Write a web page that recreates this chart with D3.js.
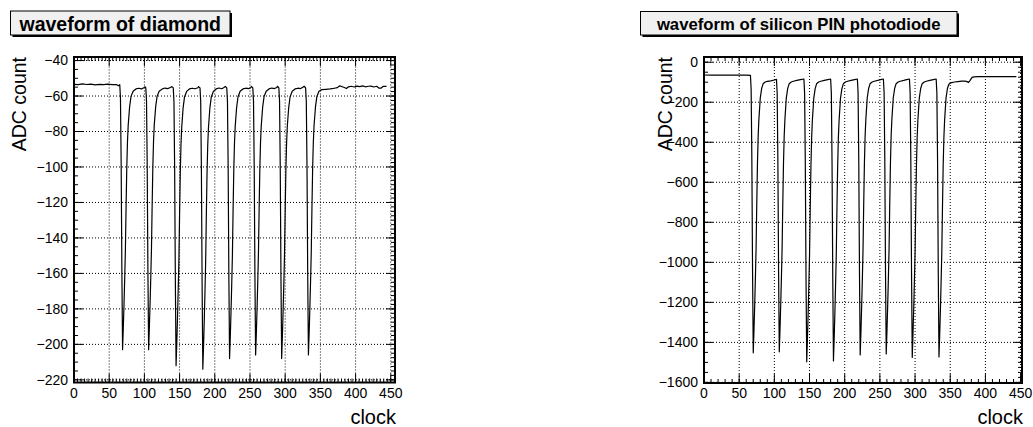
<!DOCTYPE html>
<html>
<head>
<meta charset="utf-8">
<script src="https://cdn.jsdelivr.net/npm/d3@7"></script>
<style>
  body { margin: 0; background: #fff; }
  svg { display: block; font-family: "Liberation Sans", Arial, Helvetica, sans-serif; }
</style>
</head>
<body>
<svg id="chart" width="1033" height="427"></svg>
<script>
// ---- Diamond detector waveform (clock sample, ADC count) ----
const diamondClock = [
  0, 6, 12, 18, 24, 30, 36, 42, 48, 54, 60, 63, 65,
  66, 67, 68, 69, 70, 71, 72, 73, 74, 75, 76, 77, 79, 81, 84, 88, 92, 96, 99, 101, 102,
  103, 104, 105, 106, 107, 108, 109, 110, 111, 112, 113, 114, 116, 118, 121, 125, 129, 133, 137, 139, 141,
  142, 143, 144, 145, 146, 147, 148, 149, 150, 151, 152, 153, 155, 157, 160, 164, 168, 172, 176, 177, 179,
  180, 181, 182, 183, 184, 185, 186, 187, 188, 189, 190, 191, 193, 195, 198, 202, 206, 210, 213, 215, 217,
  218, 219, 220, 221, 222, 223, 224, 225, 226, 227, 228, 229, 231, 233, 236, 240, 244, 248, 251, 252, 254,
  255, 256, 257, 258, 259, 260, 261, 262, 263, 264, 265, 266, 268, 270, 273, 277, 281, 285, 288, 289, 291,
  292, 293, 294, 295, 296, 297, 298, 299, 300, 301, 302, 303, 305, 307, 310, 314, 318, 322, 325, 327, 329,
  330, 331, 332, 333, 334, 335, 336, 337, 338, 339, 340, 341, 343, 345, 348,
  352, 358, 364, 370, 374, 377, 380, 384, 387, 390, 394, 398, 402, 406, 410, 414, 418, 422, 426, 430, 433, 436, 439, 444
];
const diamondAdc = [
  -53.4, -53.6, -53.2, -53.5, -53.3, -53.7, -53.4, -53.6, -53.3, -53.6, -53.5, -54.2, -53.6,
  -61.0, -98.4, -158.2, -203, -191.2, -178.0, -163.3, -147.1, -122.0, -100.0, -85.2, -76.4, -66.1, -60.2, -57.3, -56.0, -55.6, -56.0, -55.3, -54.8, -55.4,
  -62.8, -99.7, -158.7, -203, -191.2, -178.0, -163.3, -147.1, -122.0, -100.0, -85.2, -76.4, -66.1, -60.2, -57.3, -56.1, -55.5, -55.8, -55.2, -54.7, -55.4,
  -63.2, -102.4, -165.0, -212, -199.5, -185.4, -169.8, -152.6, -126.1, -102.7, -87.0, -77.7, -66.7, -60.5, -57.4, -56.0, -55.6, -55.9, -55.3, -54.7, -55.4,
  -63.3, -103.0, -166.4, -214, -201.3, -187.1, -171.3, -153.9, -127.0, -103.3, -87.4, -77.9, -66.9, -60.5, -57.4, -56.0, -55.5, -55.9, -55.2, -54.6, -55.4,
  -63.0, -101.2, -162.2, -208, -195.8, -182.1, -166.9, -150.2, -124.3, -101.5, -86.2, -77.1, -66.5, -60.4, -57.3, -56.0, -55.6, -55.8, -55.3, -54.6, -55.4,
  -62.9, -100.6, -160.8, -206, -194.0, -180.5, -165.4, -148.9, -123.4, -100.9, -85.8, -76.8, -66.3, -60.3, -57.3, -56.0, -55.5, -55.8, -55.2, -54.5, -55.4,
  -63.0, -101.2, -162.2, -208, -195.8, -182.1, -166.9, -150.2, -124.3, -101.5, -86.2, -77.1, -66.5, -60.4, -57.3, -56.0, -55.6, -55.8, -55.1, -54.5, -55.4,
  -62.9, -100.6, -160.8, -206, -194.0, -180.5, -165.4, -148.9, -123.4, -100.9, -85.8, -76.8, -66.3, -60.3, -57.3,
  -56.4, -56.2, -56.0, -55.6, -55.3, -54.3, -54.6, -55.2, -55.8, -54.8, -54.5, -54.9, -54.4, -54.7, -54.3, -54.8, -54.5, -54.4, -54.9, -54.5, -55.5, -55.6, -54.6, -54.6
];

// ---- Silicon PIN photodiode waveform (clock sample, ADC count) ----
const pinClock = [
  0, 10, 20, 30, 40, 50, 60, 66,
  67, 68, 69, 70, 71, 72, 73, 74, 75, 76, 77, 78, 80, 82, 84, 87, 90, 95, 100, 103,
  104, 105, 106, 107, 108, 109, 110, 111, 112, 113, 114, 115, 117, 119, 121, 124, 127, 132, 137, 142,
  143, 144, 145, 146, 147, 148, 149, 150, 151, 152, 153, 154, 156, 158, 160, 163, 166, 171, 176, 180,
  181, 182, 183, 184, 185, 186, 187, 188, 189, 190, 191, 192, 194, 196, 198, 201, 204, 209, 214, 218,
  219, 220, 221, 222, 223, 224, 225, 226, 227, 228, 229, 230, 232, 234, 236, 239, 242, 247, 251, 255,
  256, 257, 258, 259, 260, 261, 262, 263, 264, 265, 266, 267, 269, 271, 273, 276, 279, 284, 288, 292,
  293, 294, 295, 296, 297, 298, 299, 300, 301, 302, 303, 304, 306, 308, 310, 313, 316, 321, 326, 330,
  331, 332, 333, 334, 335, 336, 337, 338, 339, 340, 341, 342, 344, 346,
  348, 351, 356, 361, 366, 370, 373, 376, 378, 381, 384, 390, 400, 410, 420, 430, 444
];
const pinAdc = [
  -64, -64.5, -64, -64.5, -64.5, -65, -65, -65.5,
  -134.8, -481.5, -1036.1, -1452, -1343.6, -1221.7, -1086.2, -937.1, -706.8, -503.5, -368, -286.7, -178.3, -130.9, -108, -99, -96, -93, -89, -86,
  -154.1, -494.3, -1038.7, -1447, -1339, -1217.5, -1082.5, -934, -704.5, -502, -367, -286, -178, -130.8, -108, -99, -95, -91, -87, -84,
  -154.7, -507.9, -1073.1, -1497, -1385, -1259, -1119, -965, -727, -517, -377, -293, -181, -132, -108, -99, -95, -91, -87, -84,
  -154.5, -506.7, -1070.3, -1493, -1381.3, -1255.7, -1116.1, -962.5, -725.2, -515.8, -376.2, -292.4, -180.8, -131.9, -108, -99, -95, -91, -87, -84,
  -153, -497.7, -1049.3, -1463, -1353.7, -1230.8, -1094.2, -943.9, -711.7, -506.8, -370.2, -288.2, -179, -131.2, -108, -99, -95, -91, -87, -84,
  -152.7, -496.2, -1045.8, -1458, -1349.1, -1226.6, -1090.5, -940.8, -709.5, -505.3, -369.2, -287.5, -178.7, -131, -108, -99, -95, -91, -87, -84,
  -153.6, -501.3, -1057.7, -1475, -1364.8, -1240.7, -1102.9, -951.4, -717.1, -510.4, -372.6, -289.9, -179.7, -131.5, -108, -99, -95, -91, -87, -84,
  -153.5, -500.7, -1056.3, -1473, -1362.9, -1239.1, -1101.5, -950.1, -716.2, -509.8, -372.2, -289.6, -179.6, -131.4,
  -110, -103, -99, -97, -95, -95, -96, -101, -92, -76, -73, -72.5, -72.5, -72, -72.5, -72.5, -72.5
];

// ---- Axis ticks and labels ----
const clockTicks = [0, 50, 100, 150, 200, 250, 300, 350, 400, 450];
const diamondAdcTicks = [-220, -200, -180, -160, -140, -120, -100, -80, -60, -40];
const pinAdcTicks = [-1600, -1400, -1200, -1000, -800, -600, -400, -200, 0];
const panelTitles = ["waveform of diamond", "waveform of silicon PIN photodiode"];
const xAxisTitle = "clock";
const yAxisTitle = "ADC count";

// ---- Panel layout ----
const panels = [
  {
    title: panelTitles[0], clock: diamondClock, adc: diamondAdc, yTicks: diamondAdcTicks,
    frame: { left: 74, right: 395, top: 57, bottom: 382.5 },
    xDomain: [0, 456], yDomain: [-221.5, -38],
    xMinor: 5, yMinorLeft: 5, yMinorRight: 2.5,
    box: { x: 10.5, y: 11, w: 219.5, h: 24, font: 19.5, base: 30.5 },
    yTitleX: 26
  },
  {
    title: panelTitles[1], clock: pinClock, adc: pinAdc, yTicks: pinAdcTicks,
    frame: { left: 704, right: 1022, top: 57, bottom: 383 },
    xDomain: [0, 452], yDomain: [-1603, 26],
    xMinor: 10, yMinorLeft: 50, yMinorRight: 25,
    box: { x: 640.5, y: 11.5, w: 316.5, h: 23.5, font: 16.7, base: 29.5 },
    yTitleX: 671.5
  }
];

const svg = d3.select("#chart");
const fmt = d3.format("d");

panels.forEach((p, i) => {
  const f = p.frame;
  const x = d3.scaleLinear().domain(p.xDomain).range([f.left, f.right]);
  const y = d3.scaleLinear().domain(p.yDomain).range([f.bottom, f.top]);
  const g = svg.append("g");

  // dotted grid at the major ticks
  g.append("g").selectAll("line.gx").data(clockTicks.filter(t => t > 0)).join("line")
    .attr("x1", d => x(d)).attr("x2", d => x(d))
    .attr("y1", f.bottom).attr("y2", f.top)
    .attr("stroke", "#000").attr("stroke-width", 1).attr("stroke-dasharray", "1 2");
  g.append("g").selectAll("line.gy").data(p.yTicks).join("line")
    .attr("x1", f.left).attr("x2", f.right)
    .attr("y1", d => y(d)).attr("y2", d => y(d))
    .attr("stroke", "#000").attr("stroke-width", 1).attr("stroke-dasharray", "1 2");

  // waveform
  const clipId = "clip" + i;
  svg.append("clipPath").attr("id", clipId).append("rect")
    .attr("x", f.left).attr("y", f.top).attr("width", f.right - f.left).attr("height", f.bottom - f.top);
  const idx = d3.range(p.clock.length);
  const line = d3.line().x(k => x(p.clock[k])).y(k => y(p.adc[k]));
  g.append("path").datum(idx)
    .attr("clip-path", `url(#${clipId})`)
    .attr("d", line).attr("fill", "none")
    .attr("stroke", "#000").attr("stroke-width", 1.2).attr("stroke-linejoin", "round");

  // tick marks, inward on all four sides
  const ticks = g.append("g").attr("stroke", "#000").attr("stroke-width", 1);
  const xMinor = d3.range(p.xDomain[0], p.xDomain[1] + 1e-9, p.xMinor);
  const drawX = (vals, len) => {
    vals.forEach(v => {
      const px = x(v);
      ticks.append("line").attr("x1", px).attr("x2", px).attr("y1", f.bottom).attr("y2", f.bottom - len);
      ticks.append("line").attr("x1", px).attr("x2", px).attr("y1", f.top).attr("y2", f.top + len);
    });
  };
  drawX(xMinor, 4);
  drawX(clockTicks, 9);
  const yLo = Math.ceil(p.yDomain[0] / p.yMinorRight) * p.yMinorRight;
  d3.range(yLo, p.yDomain[1] + 1e-9, p.yMinorRight).forEach(v => {
    ticks.append("line").attr("x1", f.right).attr("x2", f.right - 4).attr("y1", y(v)).attr("y2", y(v));
  });
  const yLoL = Math.ceil(p.yDomain[0] / p.yMinorLeft) * p.yMinorLeft;
  d3.range(yLoL, p.yDomain[1] + 1e-9, p.yMinorLeft).forEach(v => {
    ticks.append("line").attr("x1", f.left).attr("x2", f.left + 4).attr("y1", y(v)).attr("y2", y(v));
  });
  p.yTicks.forEach(v => {
    ticks.append("line").attr("x1", f.left).attr("x2", f.left + 9).attr("y1", y(v)).attr("y2", y(v));
    ticks.append("line").attr("x1", f.right).attr("x2", f.right - 9).attr("y1", y(v)).attr("y2", y(v));
  });

  // frame
  g.append("rect").attr("x", f.left).attr("y", f.top)
    .attr("width", f.right - f.left).attr("height", f.bottom - f.top)
    .attr("fill", "none").attr("stroke", "#000").attr("stroke-width", 2);

  // tick labels
  g.append("g").selectAll("text").data(clockTicks).join("text")
    .attr("x", d => x(d)).attr("y", f.bottom + 15)
    .attr("text-anchor", "middle").attr("font-size", 14).attr("fill", "#000")
    .text(d => fmt(d));
  g.append("g").selectAll("text").data(p.yTicks).join("text")
    .attr("x", f.left - 6).attr("y", d => y(d)).attr("dy", "0.35em")
    .attr("text-anchor", "end").attr("font-size", 14).attr("fill", "#000")
    .text(d => fmt(d));

  // axis titles
  g.append("text").attr("x", f.right + 1).attr("y", 424)
    .attr("text-anchor", "end").attr("font-size", 20).attr("fill", "#000")
    .text(xAxisTitle);
  g.append("text")
    .attr("transform", `translate(${p.yTitleX},${f.top}) rotate(-90)`)
    .attr("text-anchor", "end").attr("font-size", 19.5).attr("fill", "#000")
    .text(yAxisTitle);

  // title box with shadow
  const b = p.box;
  g.append("rect").attr("x", b.x + 2).attr("y", b.y + 2).attr("width", b.w).attr("height", b.h).attr("fill", "#000");
  g.append("rect").attr("x", b.x).attr("y", b.y).attr("width", b.w).attr("height", b.h)
    .attr("fill", "#f0f0f0").attr("stroke", "#000").attr("stroke-width", 1);
  g.append("text").attr("x", b.x + b.w / 2).attr("y", b.base)
    .attr("text-anchor", "middle").attr("font-weight", "bold").attr("font-size", b.font).attr("fill", "#000")
    .text(p.title);
});
</script>
</body>
</html>
